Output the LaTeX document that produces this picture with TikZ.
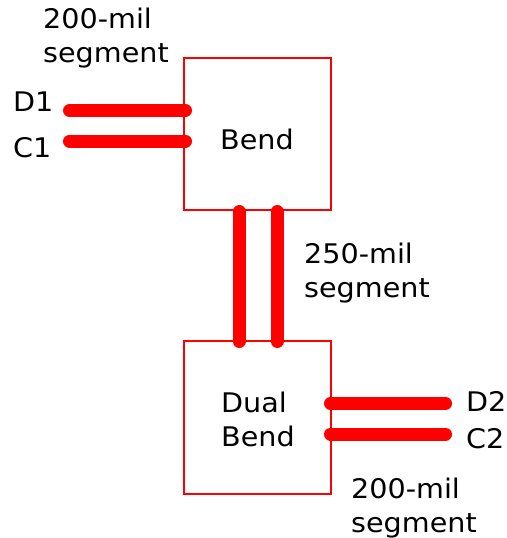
\documentclass[tikz,border=0pt]{standalone}
\usepackage{fontspec}
\setmainfont{DejaVu Sans}[FakeStretch=1.06]
\begin{document}
\begin{tikzpicture}[x=1pt,y=-1pt,
  box/.style={draw=red,line width=2pt,minimum width=147pt,minimum height=152pt,inner sep=0pt,align=left},
  trace/.style={draw=red,line width=13pt,line cap=round},
  lbl/.style={inner sep=0pt,anchor=base west,font=\fontsize{27}{34}\selectfont,align=left}]
\useasboundingbox (0,0) rectangle (506,538);
\node[box] (bend) at (257.5,134) {};
\node[box,minimum height=153pt] (dual) at (257.5,417.5) {};
% text (anchor = baseline of last line)
\node[lbl] (t1) at (43,62) {200-mil\\segment};
\node[lbl] (d1) at (13,111) {D1};
\node[lbl] (c1) at (13,157) {C1};
\node[lbl] (bendtxt) at (220,149) {Bend};
\node[lbl] (t2) at (304,297) {250-mil\\segment};
\node[lbl] (dualtxt) at (221,446) {Dual\\Bend};
\node[lbl] (d2) at (466,411) {D2};
\node[lbl] (c2) at (466,448) {C2};
\node[lbl] (t3) at (351,532) {200-mil\\segment};
% trace ends
\coordinate (d1a) at (69.5,110.5);
\coordinate (d1b) at (185.5,110.5);
\coordinate (c1a) at (69.5,141);
\coordinate (c1b) at (185.5,141);
\coordinate (v1a) at (239,211.5);
\coordinate (v1b) at (239,341.5);
\coordinate (v2a) at (277,211.5);
\coordinate (v2b) at (277,341.5);
\coordinate (d2a) at (330.5,403.5);
\coordinate (d2b) at (445.5,403.5);
\coordinate (c2a) at (330.5,434);
\coordinate (c2b) at (445.5,434);
\draw[trace] (d1a) -- (d1b);
\draw[trace] (c1a) -- (c1b);
\draw[trace] (v1a) -- (v1b);
\draw[trace] (v2a) -- (v2b);
\draw[trace] (d2a) -- (d2b);
\draw[trace] (c2a) -- (c2b);
\end{tikzpicture}
\end{document}
